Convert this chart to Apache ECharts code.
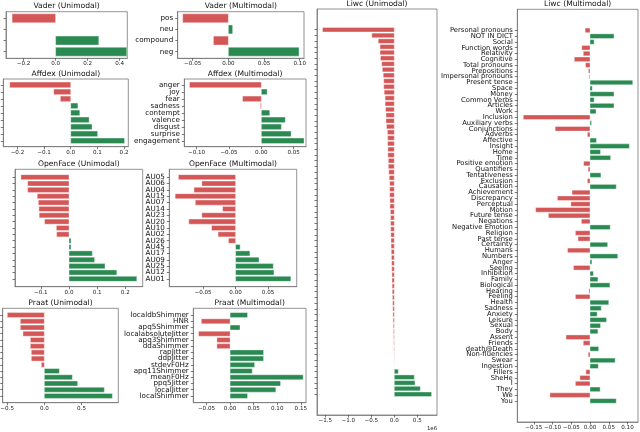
<!DOCTYPE html>
<html><head><meta charset="utf-8">
<script src="https://cdn.jsdelivr.net/npm/echarts@6/dist/echarts.min.js"></script>
<style>html,body{margin:0;padding:0;background:#fff}#c{width:640px;height:432px}</style>
</head><body><div id="c"></div><script>
// ---------- data ----------
const vaderCats = ['pos','neu','compound','neg'];
const vaderUni = [-0.272, 0, 0.27, 0.445];
const vaderMulti = [-0.064, 0.006, -0.021, 0.099];
const vaderUniTicks = [-0.2, 0, 0.2, 0.4];
const vaderMultiTicks = [-0.05, 0, 0.05, 0.10];

const affdexCats = ['anger','joy','fear','sadness','contempt','valence','disgust','surprise','engagement'];
const affdexUni = [-0.229, -0.064, -0.039, 0.027, 0.034, 0.069, 0.08, 0.101, 0.202];
const affdexMulti = [-0.111, 0.009, -0.029, -0.0015, 0.013, 0.037, 0.031, 0.046, 0.066];
const affdexUniTicks = [-0.2, -0.1, 0, 0.1, 0.2];
const affdexMultiTicks = [-0.10, -0.05, 0, 0.05];

const openfaceCats = ['AU05','AU06','AU04','AU15','AU07','AU14','AU23','AU20','AU10','AU02','AU26','AU45','AU17','AU09','AU25','AU12','AU01'];
const openfaceUni = [-0.171, -0.147, -0.147, -0.113, -0.109, -0.107, -0.106, -0.087, -0.045, -0.044, 0.007, 0.007, 0.083, 0.091, 0.128, 0.170, 0.241];
const openfaceMulti = [-0.088, -0.052, -0.064, -0.093, -0.062, -0.020, -0.052, -0.072, -0.037, -0.027, -0.011, 0.007, 0.022, 0.036, 0.058, 0.059, 0.085];
const openfaceUniTicks = [-0.1, 0, 0.1, 0.2];
const openfaceMultiTicks = [-0.05, 0, 0.05];

const praatCats = ['localdbShimmer','HNR','apq5Shimmer','localabsoluteJitter','apq3Shimmer','ddaShimmer','rapJitter','ddpJitter','stdevF0Hz','apq11Shimmer','meanF0Hz','ppq5Jitter','localJitter','localShimmer'];
const praatUni = [-0.498, -0.323, -0.323, -0.287, -0.188, -0.188, -0.175, -0.175, -0.04, 0.202, 0.377, 0.448, 0.807, 0.915];
const praatMulti = [0.037, -0.061, 0.021, -0.067, -0.028, -0.028, 0.071, 0.071, 0.052, 0.047, 0.155, 0.107, 0.097, 0.037];
const praatUniTicks = [-0.5, 0, 0.5, 1.0];
const praatMultiTicks = [-0.05, 0, 0.05, 0.10, 0.15];

const liwcCats = ['Personal pronouns','NOT IN DICT','Social','Function words','Relativity','Cognitive','Total pronouns','Prepositions','Impersonal pronouns','Present tense','Space','Money','Common Verbs','Articles','Work','Inclusion','Auxiliary verbs','Conjunctions','Adverbs','Affective','Insight','Home','Time','Positive emotion','Quantifiers','Tentativeness','Exclusion','Causation','Achievement','Discrepancy','Perceptual','Motion','Future tense','Negations','Negative Emotion','Religion','Past tense','Certainty','Humans','Numbers','Anger','Seeing','Inhibition','Family','Biological','Hearing','Feeling','Health','Sadness','Anxiety','Leisure','Sexual','Body','Assent','Friends','death@Death','Non-fluencies','Swear','Ingestion','Fillers','SheHe','I','They','We','You'];
// unimodal values in units of 1e6
const liwcUni = [-1.56, -0.49, -0.35, -0.31, -0.31, -0.30, -0.275, -0.26, -0.24, -0.23, -0.23, -0.22, -0.20, -0.20, -0.19, -0.18, -0.18, -0.17, -0.15, -0.145, -0.145, -0.14, -0.14, -0.13, -0.13, -0.12, -0.11, -0.10, -0.10, -0.10, -0.095, -0.095, -0.085, -0.08,
  -0.08, -0.078, -0.075, -0.072, -0.07, -0.066, -0.062, -0.058, -0.055, -0.052, -0.05, -0.047, -0.044, -0.04, -0.037, -0.033, -0.03, -0.026, -0.022, -0.018, -0.015, -0.012, -0.009, -0.006, -0.004, -0.001,
  0.087, 0.435, 0.45, 0.565, 0.81];
const liwcMulti = [-0.013, 0.064, 0.011, -0.022, -0.018, -0.042, -0.012, -0.004, -0.002, 0.114, 0.006, 0.064, 0.011, 0.064, 0.016, -0.178, 0.004, -0.093, -0.007, 0.017, 0.105, 0.028, 0.055, -0.017, -0.005, 0.029, -0.007, 0.070, -0.048, -0.087, -0.051, -0.145, -0.111, -0.023, 0.054, -0.039, -0.032, 0.047, -0.06, 0.074, 0.005, -0.044, 0.009, 0.021, 0.053, -0.003, -0.039, 0.05, 0.03, 0.019, 0.044, 0.028, 0.021, -0.064, -0.018, 0.023, -0.005, 0.067, 0.022, -0.011, -0.027, -0.039, 0.027, -0.107, 0.07];
const liwcUniTicks = [-1.5, -1.0, -0.5, 0, 0.5];
const liwcMultiTicks = [-0.15, -0.10, -0.05, 0, 0.05, 0.10];

// ---------- layout ----------
const RED = '#d45757', GREEN = '#2a8a52', FONT = 'DejaVu Sans';
const panels = [
  {title:'Vader (Unimodal)', vals:vaderUni, cats:null, box:[6,11.7,121.3,46.6], xr:[-0.31,0.448], ticks:vaderUniTicks, dec:1, ty:5.7},
  {title:'Vader (Multimodal)', vals:vaderMulti, cats:vaderCats, box:[177.7,11.7,126.3,46.6], xr:[-0.071,0.106], ticks:vaderMultiTicks, dec:2, ty:5.7},
  {title:'Affdex (Unimodal)', vals:affdexUni, cats:null, box:[3.3,79,125,67.7], xr:[-0.253,0.216], ticks:affdexUniTicks, dec:1, ty:74},
  {title:'Affdex (Multimodal)', vals:affdexMulti, cats:affdexCats, box:[184.3,79,121.7,67.7], xr:[-0.119,0.069], ticks:affdexMultiTicks, dec:2, ty:74},
  {title:'OpenFace (Unimodal)', vals:openfaceUni, cats:null, box:[15,169.3,127.7,117.4], xr:[-0.192,0.262], ticks:openfaceUniTicks, dec:1, ty:164},
  {title:'OpenFace (Multimodal)', vals:openfaceMulti, cats:openfaceCats, box:[169.3,169.3,127.4,117.4], xr:[-0.102,0.094], ticks:openfaceMultiTicks, dec:2, ty:164},
  {title:'Praat (Unimodal)', vals:praatUni, cats:null, box:[2.7,308.3,115.6,94.4], xr:[-0.56,0.995], ticks:praatUniTicks, dec:1, ty:302.7},
  {title:'Praat (Multimodal)', vals:praatMulti, cats:praatCats, box:[193.3,308.3,112.7,94.4], xr:[-0.078,0.161], ticks:praatMultiTicks, dec:2, ty:302.7},
  {title:'Liwc (Unimodal)', vals:liwcUni, cats:null, box:[317,9,120,406], xr:[-1.68,0.928], ticks:liwcUniTicks, dec:1, ty:4.5},
  {title:'Liwc (Multimodal)', vals:liwcMulti, cats:liwcCats, box:[517.3,9.3,120.7,412.7], xr:[-0.194,0.128], ticks:liwcMultiTicks, dec:2, ty:4.5}
];

function fmt(v, dec){ return (v < 0 ? '\u2212' : '') + Math.abs(v).toFixed(dec); }
function renderItem(params, api){
  const v = api.value(0), j = api.value(1);
  const a = api.coord([0, j - 0.4]), b = api.coord([v, j + 0.4]);
  return {type:'rect', shape:{x:Math.min(a[0],b[0]), y:Math.min(a[1],b[1]), width:Math.abs(b[0]-a[0]), height:Math.abs(b[1]-a[1])},
    style:{fill: v < 0 ? RED : GREEN, stroke:'rgba(255,255,255,0.55)', lineWidth:0.7}};
}

const grid=[], xAxis=[], yAxis=[], series=[], graphic=[];
panels.forEach((p,i)=>{
  const n = p.vals.length, idx = p.vals.map((_,j)=>j), m = 0.05*(n-0.2);
  const ymin = -0.4-m, ymax = n-0.6+m;
  grid.push({left:p.box[0], top:p.box[1], width:p.box[2], height:p.box[3], show:true, borderColor:'#777', borderWidth:0.8, containLabel:false, outerBoundsMode:'none'});
  xAxis.push({gridIndex:i, type:'value', min:p.xr[0], max:p.xr[1],
    axisLine:{show:true, onZero:false, lineStyle:{color:'#777', width:0.8}}, splitLine:{show:false},
    axisTick:{show:true, length:2.5, lineStyle:{color:'#444', width:0.7}, customValues:p.ticks},
    axisLabel:{customValues:p.ticks, formatter:(v)=>fmt(v,p.dec), fontSize:5.6, fontFamily:FONT, color:'#222', margin:2.5, showMinLabel:true, showMaxLabel:true, hideOverlap:false}});
  const mainY = yAxis.length;
  yAxis.push({gridIndex:i, type:'value', inverse:true, min:ymin, max:ymax, position:'left',
    axisLine:{show:true, onZero:false, lineStyle:{color:'#777', width:0.8}}, splitLine:{show:false},
    axisTick:{show:true, length:2.5, lineStyle:{color:'#444', width:0.7}, customValues:idx},
    axisLabel:{show:false}});
  if (p.cats) {
    // category names split over two label-only axes (even / odd rows) so neighbours never collide
    [0,1].forEach(par=>{
      const sub = idx.filter(j=>j%2===par);
      yAxis.push({gridIndex:i, type:'value', inverse:true, min:ymin, max:ymax, position:'left', offset:0,
        axisLine:{show:false, onZero:false}, splitLine:{show:false}, axisTick:{show:false, customValues:sub},
        axisLabel:{show:true, customValues:sub, formatter:(v)=> p.cats[Math.round(v)]||'', fontSize:(i===9?6.8:7.2), fontFamily:FONT, color:'#111', margin:4.5, showMinLabel:true, showMaxLabel:true, hideOverlap:false}});
    });
  }
  series.push({type:'custom', xAxisIndex:i, yAxisIndex:mainY, data:p.vals.map((v,j)=>[v,j]), encode:{x:0,y:1}, renderItem, silent:true, animation:false});
  graphic.push({type:'text', x:p.box[0]+p.box[2]/2, y:p.ty, silent:true, style:{text:p.title, align:'center', verticalAlign:'middle', font:'7.6px "DejaVu Sans"', fill:'#111'}});
});
graphic.push({type:'text', x:432, y:429, silent:true, style:{text:'1e6', align:'center', verticalAlign:'middle', font:'5.4px "DejaVu Sans"', fill:'#222'}});

const chart = echarts.init(document.getElementById('c'), null, {renderer:'canvas'});
chart.setOption({animation:false, backgroundColor:'#fff', grid, xAxis, yAxis, series, graphic});
</script></body></html>
